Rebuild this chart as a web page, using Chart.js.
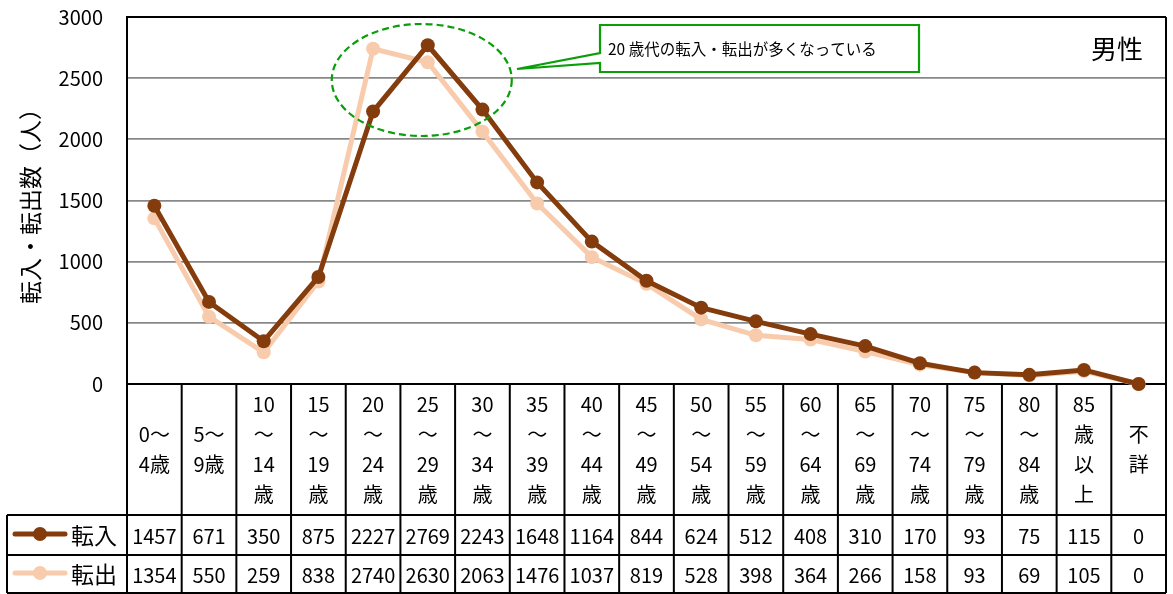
<!DOCTYPE html>
<html><head><meta charset="utf-8">
<script src="https://cdn.jsdelivr.net/npm/chart.js@4.4.1/dist/chart.umd.min.js"></script>
<style>html,body{margin:0;padding:0;background:#fff;}canvas{display:block;}</style>
</head><body>
<canvas id="c" width="1173" height="594"></canvas>
<script>
const categories = [
  ['0～','4歳'],['5～','9歳'],['10','～','14','歳'],['15','～','19','歳'],['20','～','24','歳'],
  ['25','～','29','歳'],['30','～','34','歳'],['35','～','39','歳'],['40','～','44','歳'],['45','～','49','歳'],
  ['50','～','54','歳'],['55','～','59','歳'],['60','～','64','歳'],['65','～','69','歳'],['70','～','74','歳'],
  ['75','～','79','歳'],['80','～','84','歳'],['85','歳','以','上'],['不','詳']
];
const tennyu = [1457,671,350,875,2227,2769,2243,1648,1164,844,624,512,408,310,170,93,75,115,0];
const tenshutsu = [1354,550,259,838,2740,2630,2063,1476,1037,819,528,398,364,266,158,93,69,105,0];
const seriesNames = ['転入','転出'];
const seriesColors = ['#843c0c','#f8cbad'];
const yTicks = [0,500,1000,1500,2000,2500,3000];
const yTitle = '転入・転出数（人）';
const panelLabel = '男性';
const noteText = '20 歳代の転入・転出が多くなっている';

const FONT = "'Noto Sans CJK JP', 'Noto Sans', sans-serif";
const GREEN = '#0a9e0a';

const tablePlugin = {
  id: 'tablePlugin',
  beforeDatasetsDraw(chart) {
    const ctx = chart.ctx, ca = chart.chartArea, xs = chart.scales.x;
    const n = categories.length;
    const cw = (ca.right - ca.left) / n;
    const yHeadTop = ca.bottom, yRow1 = 515, yRow2 = 555, yBot = 593;
    const xLegend = 7;
    ctx.save();
    ctx.strokeStyle = '#000'; ctx.lineWidth = 2;
    ctx.beginPath();
    ctx.moveTo(ca.left, ca.top); ctx.lineTo(ca.right, ca.top);
    ctx.moveTo(ca.right, ca.top); ctx.lineTo(ca.right, yBot);
    ctx.stroke();
    ctx.beginPath();
    ctx.moveTo(ca.left - 1, yHeadTop); ctx.lineTo(ca.right + 1, yHeadTop);
    ctx.moveTo(xLegend, yRow1); ctx.lineTo(ca.right, yRow1);
    ctx.moveTo(xLegend, yRow2); ctx.lineTo(ca.right, yRow2);
    ctx.moveTo(xLegend, yBot); ctx.lineTo(ca.right, yBot);
    ctx.moveTo(xLegend, yRow1); ctx.lineTo(xLegend, yBot);
    for (let i = 0; i <= n; i++) {
      const x = ca.left + i * cw;
      ctx.moveTo(x, yHeadTop); ctx.lineTo(x, yBot);
    }
    ctx.stroke();
    ctx.fillStyle = '#000';
    ctx.font = '20px ' + FONT;
    ctx.textAlign = 'center'; ctx.textBaseline = 'middle';
    const mid = (yHeadTop + yRow1) / 2;
    const lh = 30;
    categories.forEach((lines, i) => {
      const cx = xs.getPixelForValue(i);
      const y0 = mid - (lines.length - 1) * lh / 2;
      lines.forEach((t, k) => ctx.fillText(t, cx, y0 + k * lh));
    });
    const rows = [tennyu, tenshutsu];
    const rowMid = [(yRow1 + yRow2) / 2, (yRow2 + yBot) / 2];
    rows.forEach((vals, r) => {
      vals.forEach((v, i) => ctx.fillText(String(v), xs.getPixelForValue(i), rowMid[r] + 1));
    });
    rows.forEach((vals, r) => {
      const y = rowMid[r] - 1;
      ctx.strokeStyle = seriesColors[r]; ctx.lineWidth = 5; ctx.lineCap = 'round';
      ctx.beginPath(); ctx.moveTo(15, y); ctx.lineTo(65, y); ctx.stroke();
      ctx.fillStyle = seriesColors[r];
      ctx.beginPath(); ctx.arc(40, y, 7, 0, Math.PI * 2); ctx.fill();
      ctx.fillStyle = '#000';
      ctx.font = '23px ' + FONT; ctx.textAlign = 'left';
      ctx.fillText(seriesNames[r], 71, y + 1);
      ctx.font = '20px ' + FONT; ctx.textAlign = 'center';
    });
    ctx.save();
    ctx.translate(30, (ca.top + ca.bottom) / 2);
    ctx.rotate(-Math.PI / 2);
    ctx.font = '23px ' + FONT;
    ctx.textAlign = 'center'; ctx.textBaseline = 'middle';
    ctx.fillText(yTitle, 0, 0);
    ctx.restore();
    ctx.restore();
  },
  afterDatasetsDraw(chart) {
    const ctx = chart.ctx;
    const xs = chart.scales.x, ys = chart.scales.y;
    ctx.save();
    const ex = xs.getPixelForValue(5) - 6;
    const ey = ys.getPixelForValue(2485);
    ctx.strokeStyle = GREEN; ctx.lineWidth = 2.2;
    ctx.setLineDash([7, 4]);
    ctx.beginPath(); ctx.ellipse(ex, ey, 90, 56, 0, 0, Math.PI * 2); ctx.stroke();
    ctx.setLineDash([]);
    const bl = 600, bt = 25, br = 919, bb = 72;
    ctx.beginPath();
    ctx.moveTo(bl, bt); ctx.lineTo(br, bt); ctx.lineTo(br, bb); ctx.lineTo(bl, bb);
    ctx.lineTo(bl, 63); ctx.lineTo(517, 69); ctx.lineTo(bl, 53); ctx.closePath();
    ctx.fillStyle = '#fff'; ctx.fill();
    ctx.lineWidth = 2.2; ctx.strokeStyle = GREEN; ctx.stroke();
    ctx.fillStyle = '#000';
    ctx.font = '15.5px ' + FONT; ctx.textAlign = 'left'; ctx.textBaseline = 'middle';
    ctx.fillText(noteText, 608, 49);
    ctx.font = '26px ' + FONT; ctx.textAlign = 'center';
    ctx.fillText(panelLabel, 1117, 49);
    ctx.restore();
  }
};

new Chart(document.getElementById('c'), {
  type: 'line',
  data: {
    labels: categories.map(c => c.join('')),
    datasets: [
      { label: seriesNames[0], data: tennyu, borderColor: seriesColors[0], backgroundColor: seriesColors[0],
        borderWidth: 5, pointRadius: 7, pointHoverRadius: 7, pointBorderWidth: 0, clip: false, tension: 0 },
      { label: seriesNames[1], data: tenshutsu, borderColor: seriesColors[1], backgroundColor: seriesColors[1],
        borderWidth: 5, pointRadius: 7, pointHoverRadius: 7, pointBorderWidth: 0, clip: false, tension: 0 }
    ]
  },
  options: {
    responsive: false, animation: false, devicePixelRatio: 1,
    layout: { padding: { left: 0, top: 17, right: 3, bottom: 210 } },
    plugins: { legend: { display: false }, tooltip: { enabled: false } },
    scales: {
      x: { display: false, offset: true },
      y: {
        min: 0, max: 3000,
        afterFit(s) { s.width = 127; s.paddingTop = 0; s.paddingBottom = 0; },
        afterBuildTicks(s) { s.ticks = yTicks.map(v => ({ value: v })); },
        ticks: { font: { family: FONT, size: 20 }, color: '#000', padding: 24, callback: v => String(v) },
        grid: { color: ctx => ctx.tick.value === 3000 ? 'rgba(0,0,0,0)' : '#888888', lineWidth: 1.8, drawTicks: false },
        border: { display: true, color: '#000', width: 2 }
      }
    }
  },
  plugins: [tablePlugin]
});
</script>
</body></html>
